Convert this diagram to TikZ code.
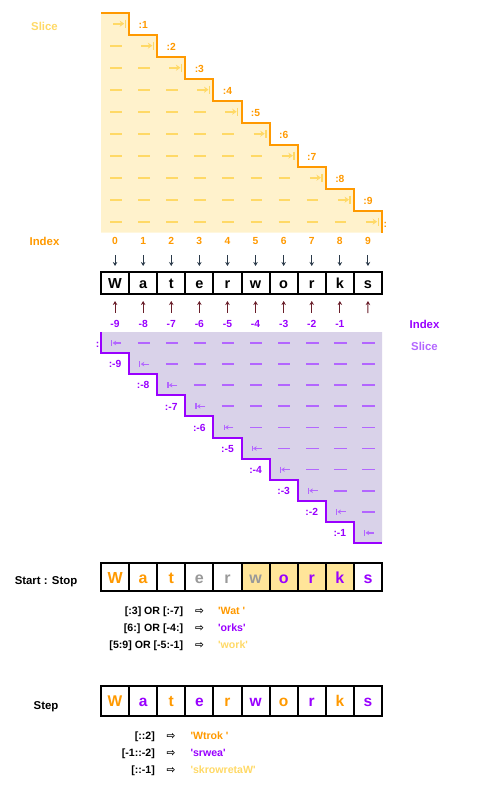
\documentclass[tikz,border=0pt]{standalone}
\usepackage{fontspec}
\setmainfont{Liberation Sans}[Ligatures=TeXOff]
\newfontfamily\symfont{DejaVu Sans}
\usetikzlibrary{arrows.meta}

\definecolor{sliceorange}{HTML}{FF9900}
\definecolor{slicelight}{HTML}{FFD966}
\definecolor{slicefill}{HTML}{FFF2CC}
\definecolor{cellfill}{HTML}{FFE599}
\definecolor{slicepurple}{HTML}{9900FF}
\definecolor{purplelight}{HTML}{B366FF}
\definecolor{purplefill}{HTML}{D9D2E9}
\definecolor{greyletter}{HTML}{999999}
\definecolor{downink}{HTML}{2B3A4A}
\definecolor{upink}{HTML}{6A1E2A}

\tikzset{
  lettercell/.style={draw=black, line width=2pt, minimum width=28.1pt, inner sep=0pt, text depth=0pt},
  numlabel/.style={inner sep=0pt, text height=7.4pt, text depth=0pt, font=\fontsize{10.3}{12}\selectfont\bfseries},
  sidelabel/.style={inner sep=0pt, font=\fontsize{11.4}{13}\selectfont\bfseries},
  exprlabel/.style={inner sep=0pt, font=\fontsize{10.6}{12}\selectfont\bfseries},
  topdash/.style={slicelight, line width=1.8pt},
  botdash/.style={purplelight, line width=1.7pt},
  downarrow/.style={downink, line width=1pt, -{Stealth[length=4pt,width=4.5pt]}, shorten <=10.6pt, shorten >=4.7pt},
  uparrow/.style={upink, line width=1pt, -{Stealth[length=4pt,width=4.5pt]}, shorten <=7.3pt, shorten >=5.7pt}
}

\begin{document}
\begin{tikzpicture}[x=1pt,y=-1pt]
\useasboundingbox (0,0) rectangle (477,787);

% slice staircase, positive stops
\fill[slicefill] (101,12.7) \foreach \k in {1,...,10}{ -| ({101+28.1*\k},{12.7+22*\k}) } -- (101,232.7) -- cycle;
\draw[sliceorange, line width=2pt] (101,12.7) \foreach \k in {1,...,10}{ -| ({101+28.1*\k},{12.7+22*\k}) };

\foreach \k in {0,...,9}{
  \pgfmathsetmacro\ty{23.7+22*\k}
  \foreach \j in {0,...,9}{
    \pgfmathsetmacro\cx{115.05+28.1*\j}
    \ifnum\j<\k \draw[topdash] (\cx-5,\ty) -- (\cx+6.5,\ty); \fi
    \ifnum\j=\k
      \draw[topdash, -{Stealth[length=4.5pt,width=6pt]}] (\cx-2,\ty) -- (\cx+9.2,\ty);
      \draw[topdash, line width=1.4pt] (\cx+10.3,\ty-4) -- (\cx+10.3,\ty+4);
    \fi
  }
}
\foreach \k in {1,...,9}{
  \node[numlabel, sliceorange] (stop\k) at ({115.05+28.1*\k},{12.7+22*\k-9.8}) {:\k};
}
\node[numlabel, sliceorange, anchor=west] (stopend) at (383.5,224) {:};

% slice staircase, negative stops
\fill[purplefill] (101,332) \foreach \k in {1,...,10}{ |- ({101+28.1*\k},{332+21.1*\k}) } -- (382,332) -- cycle;
\draw[slicepurple, line width=2pt] (101,332) \foreach \k in {1,...,10}{ |- ({101+28.1*\k},{332+21.1*\k}) };

\foreach \k in {0,...,9}{
  \pgfmathsetmacro\by{343+21.1*\k}
  \foreach \j in {0,...,9}{
    \pgfmathsetmacro\cx{115.05+28.1*\j}
    \ifnum\j>\k \draw[botdash] (\cx-5.5,\by) -- (\cx+6.8,\by); \fi
    \ifnum\j=\k
      \draw[botdash, line width=1.2pt, -{Stealth[length=3.5pt,width=4.5pt]}] (\cx+6,\by) -- (\cx-2.4,\by);
      \draw[botdash, line width=1.2pt] (\cx-3.3,\by-2.9) -- (\cx-3.3,\by+2.9);
    \fi
  }
}
\foreach \k in {1,...,9}{
  \pgfmathtruncatemacro\n{10-\k}
  \node[numlabel, slicepurple] (nstop\k) at ({115.05+28.1*(\k-1)},{343+21.1*\k}) {:-\n};
}
\node[numlabel, slicepurple, anchor=east] (nstopend) at (99.5,344) {:};

% side labels
\node[sidelabel, slicelight] (slicetop) at (44.5,26) {Slice};
\node[sidelabel, sliceorange] (indextop) at (44.5,241) {Index};
\node[sidelabel, slicepurple] (indexbot) at (424.5,324) {Index};
\node[sidelabel, purplelight] (slicebot) at (424.5,346) {Slice};

% the string with its indices
\foreach \i/\ch in {0/W,1/a,2/t,3/e,4/r,5/w,6/o,7/r,8/k,9/s}{
  \node[lettercell, minimum height=22.6pt, text height=10.4pt, font=\fontsize{14.5}{16}\selectfont\bfseries] (w\i) at ({115.05+28.1*\i},283) {\ch};
  \node[numlabel, sliceorange] (idx\i) at ({115.05+28.1*\i},240.7) {\i};
  \draw[downarrow] (idx\i) -- (w\i);
}
\foreach \i in {0,...,8}{
  \pgfmathtruncatemacro\n{\i-9}
  \node[numlabel, slicepurple] (neg\i) at ({115.05+28.1*\i},324) {\n};
}
\coordinate (neg9) at (367.95,320.3);
\foreach \i in {0,...,9}{
  \draw[uparrow] (neg\i) -- (w\i);
}

% start : stop
\node[sidelabel] (startstop) at (46,582) {Start : Stop};
\foreach \i/\ch/\ink/\bg in {0/W/sliceorange/white,1/a/sliceorange/white,2/t/sliceorange/white,3/e/greyletter/white,4/r/greyletter/white,5/w/greyletter/cellfill,6/o/slicepurple/cellfill,7/r/slicepurple/cellfill,8/k/slicepurple/cellfill,9/s/slicepurple/white}{
  \node[lettercell, fill=\bg, text=\ink, minimum height=28pt, text height=11.6pt, font=\fontsize{16}{18}\selectfont\bfseries] (s\i) at ({115.05+28.1*\i},577.3) {\ch};
}
\node[exprlabel, anchor=base east] (sse1) at (183.3,614) {[:3] OR [:-7]};
\node[exprlabel, anchor=base east] (sse2) at (183.3,631) {[6:] OR [-4:]};
\node[exprlabel, anchor=base east] (sse3) at (183.3,648) {[5:9] OR [-5:-1]};
\foreach \r/\y in {1/614,2/631,3/648}{
  \node[exprlabel, anchor=base] (ssa\r) at (199.5,\y) {\symfont ⇨};
}
\node[exprlabel, anchor=base west, sliceorange] (ssr1) at (218,614) {'Wat '};
\node[exprlabel, anchor=base west, slicepurple] (ssr2) at (218,631) {'orks'};
\node[exprlabel, anchor=base west, slicelight] (ssr3) at (218,648) {'work'};

% step
\node[sidelabel] (steplabel) at (46,706.7) {Step};
\foreach \i/\ch/\ink in {0/W/sliceorange,1/a/slicepurple,2/t/sliceorange,3/e/slicepurple,4/r/sliceorange,5/w/slicepurple,6/o/sliceorange,7/r/slicepurple,8/k/sliceorange,9/s/slicepurple}{
  \node[lettercell, text=\ink, minimum height=30pt, text height=12pt, font=\fontsize{15.5}{18}\selectfont\bfseries] (p\i) at ({115.05+28.1*\i},700.8) {\ch};
}
\node[exprlabel, anchor=base east] (spe1) at (155,739) {[::2]};
\node[exprlabel, anchor=base east] (spe2) at (155,756) {[-1::-2]};
\node[exprlabel, anchor=base east] (spe3) at (155,773) {[::-1]};
\foreach \r/\y in {1/739,2/756,3/773}{
  \node[exprlabel, anchor=base] (spa\r) at (171,\y) {\symfont ⇨};
}
\node[exprlabel, anchor=base west, sliceorange] (spr1) at (190.3,739) {'Wtrok '};
\node[exprlabel, anchor=base west, slicepurple] (spr2) at (190.3,756) {'srwea'};
\node[exprlabel, anchor=base west, slicelight] (spr3) at (190.3,773) {'skrowretaW'};
\end{tikzpicture}
\end{document}
